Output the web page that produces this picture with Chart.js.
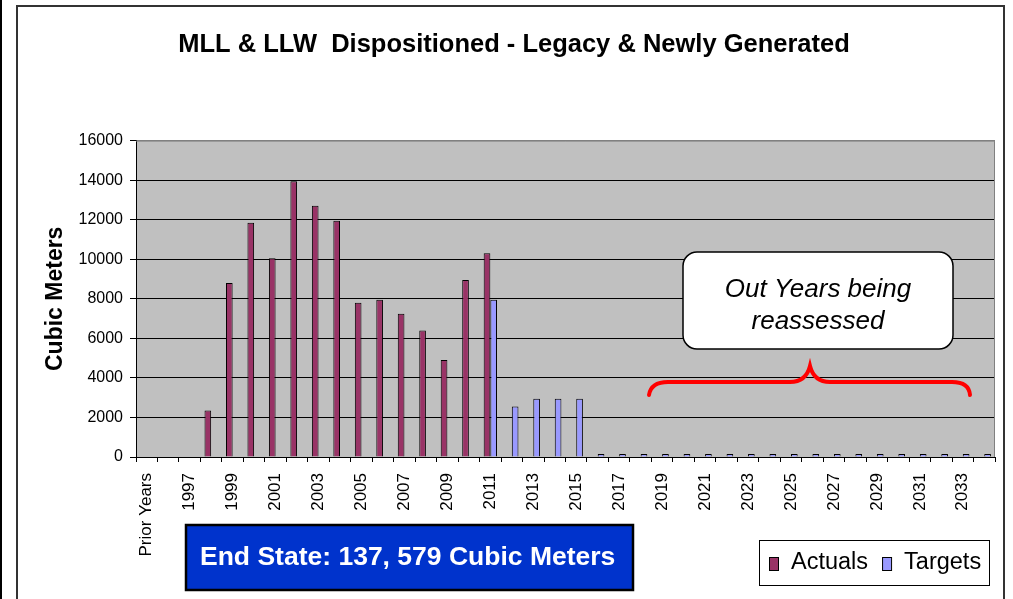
<!DOCTYPE html>
<html>
<head>
<meta charset="utf-8">
<script src="https://cdn.jsdelivr.net/npm/chart.js@4.4.1/dist/chart.umd.min.js"></script>
<style>
  html, body { margin: 0; padding: 0; background: #fff; }
  #wrap { width: 1013px; height: 599px; position: relative; }
</style>
</head>
<body>
<div id="wrap"><canvas id="wasteChart" width="1013" height="599"></canvas></div>
<script>
const categories = ['Prior Years', '1996', '1997', '1998', '1999', '2000', '2001', '2002', '2003', '2004',
    '2005', '2006', '2007', '2008', '2009', '2010', '2011', '2012', '2013', '2014', '2015', '2016',
    '2017', '2018', '2019', '2020', '2021', '2022', '2023', '2024', '2025', '2026', '2027', '2028',
    '2029', '2030', '2031', '2032', '2033', '2034'];

const actuals = [null, null, null, 2350, 8800, 11850, 10050, 13950, 12700, 11950,
    7800, 7950, 7250, 6400, 4900, 8950, 10300, null, null, null, null, null,
    null, null, null, null, null, null, null, null, null, null, null, null,
    null, null, null, null, null, null];

const targets = [null, null, null, null, null, null, null, null, null, null,
    null, null, null, null, null, null, 7950, 2550, 2950, 2950, 2950, 150,
    150, 150, 150, 150, 150, 150, 150, 150, 150, 150, 150, 150,
    150, 150, 150, 150, 150, 150];

const yTicks = [0, 2000, 4000, 6000, 8000, 10000, 12000, 14000, 16000];

const endStateText = 'End State: 137, 579 Cubic Meters';
const calloutLines = ['Out Years being', 'reassessed'];

const FONT = 'Arial, "Liberation Sans", sans-serif';

// gray plot area + outer frame
const backdrop = {
    id: 'backdrop',
    beforeDraw(chart) {
        const ctx = chart.ctx;
        const a = chart.chartArea;
        ctx.save();
        ctx.fillStyle = '#fff';
        ctx.fillRect(0, 0, chart.width, chart.height);
        ctx.strokeStyle = '#000';
        ctx.lineWidth = 2;
        ctx.beginPath();
        ctx.moveTo(1, 0); ctx.lineTo(1, chart.height);
        ctx.stroke();
        ctx.strokeStyle = '#333';
        ctx.beginPath();
        ctx.moveTo(17, chart.height); ctx.lineTo(17, 6); ctx.lineTo(1004, 6); ctx.lineTo(1004, chart.height);
        ctx.stroke();
        ctx.fillStyle = '#C0C0C0';
        ctx.fillRect(a.left, a.top, a.right - a.left, a.bottom - a.top);
        ctx.restore();
    },
    afterDatasetsDraw(chart) {
        const ctx = chart.ctx;
        const a = chart.chartArea;
        ctx.save();
        ctx.strokeStyle = '#808080';
        ctx.lineWidth = 1;
        ctx.beginPath();
        ctx.moveTo(a.left, a.top + 0.5);
        ctx.lineTo(a.right - 0.5, a.top + 0.5);
        ctx.lineTo(a.right - 0.5, a.bottom);
        ctx.stroke();
        ctx.restore();
    }
};

// text boxes, brace and legend
const annotations = {
    id: 'annotations',
    afterDraw(chart) {
        const ctx = chart.ctx;
        ctx.save();

        // callout box
        const bx = 683, by = 252, bw = 270, bh = 97, r = 14;
        ctx.beginPath();
        ctx.roundRect(bx, by, bw, bh, r);
        ctx.fillStyle = '#fff';
        ctx.fill();
        ctx.strokeStyle = '#000';
        ctx.lineWidth = 1.5;
        ctx.stroke();
        ctx.fillStyle = '#000';
        ctx.font = 'italic 26px ' + FONT;
        ctx.textAlign = 'center';
        ctx.textBaseline = 'middle';
        ctx.fillText(calloutLines[0], 818, 290);
        ctx.fillText(calloutLines[1], 818, 322);

        // red brace
        ctx.strokeStyle = '#FF0000';
        ctx.lineWidth = 4;
        ctx.lineCap = 'round';
        ctx.beginPath();
        ctx.moveTo(649, 395);
        ctx.quadraticCurveTo(651, 382, 668, 382);
        ctx.lineTo(790, 382);
        ctx.quadraticCurveTo(806, 382, 810, 366);
        ctx.quadraticCurveTo(814, 382, 830, 382);
        ctx.lineTo(952, 382);
        ctx.quadraticCurveTo(969, 382, 970, 395);
        ctx.stroke();

        // End state box
        ctx.fillStyle = '#0033CC';
        ctx.fillRect(186, 525, 447, 65);
        ctx.strokeStyle = '#000';
        ctx.lineWidth = 2.5;
        ctx.strokeRect(186, 525, 447, 65);
        ctx.fillStyle = '#fff';
        ctx.font = 'bold 26.5px ' + FONT;
        ctx.textAlign = 'left';
        ctx.fillText(endStateText, 200, 558);

        // legend
        const lx = 759, ly = 540, lw = 230, lh = 45;
        ctx.fillStyle = '#fff';
        ctx.fillRect(lx, ly, lw, lh);
        ctx.strokeStyle = '#000';
        ctx.lineWidth = 1;
        ctx.strokeRect(lx + 0.5, ly + 0.5, lw, lh);
        ctx.font = '23.5px ' + FONT;
        let x = 769;
        chart.data.datasets.forEach((ds) => {
            ctx.fillStyle = ds.backgroundColor;
            ctx.fillRect(x, 557, 9, 13);
            ctx.strokeRect(x + 0.5, 557.5, 9, 13);
            ctx.fillStyle = '#000';
            ctx.fillText(ds.label, x + 22, 563);
            x += 22 + ctx.measureText(ds.label).width + 14;
        });
        ctx.restore();
    }
};

const ctx = document.getElementById('wasteChart').getContext('2d');

new Chart(ctx, {
    type: 'bar',
    data: {
        labels: categories,
        datasets: [{
            label: 'Actuals',
            data: actuals,
            backgroundColor: '#993366',
            borderColor: '#000',
            borderWidth: 1,
            categoryPercentage: 0.62,
            barPercentage: 1.0
        }, {
            label: 'Targets',
            data: targets,
            backgroundColor: '#9999FF',
            borderColor: '#000',
            borderWidth: 1,
            categoryPercentage: 0.62,
            barPercentage: 1.0
        }]
    },
    options: {
        responsive: false,
        animation: false,
        layout: { padding: { left: 33, right: 18, top: 0, bottom: 0 } },
        plugins: {
            legend: { display: false },
            tooltip: { enabled: false },
            title: {
                display: true,
                text: 'MLL & LLW  Dispositioned - Legacy & Newly Generated',
                color: '#000',
                font: { family: FONT, size: 25.5, weight: 'bold', lineHeight: 1.2 },
                padding: { top: 30, bottom: 80 }
            }
        },
        scales: {
            x: {
                offset: true,
                grid: {
                    offset: true,
                    drawOnChartArea: false,
                    drawTicks: true,
                    tickLength: 5,
                    color: '#000'
                },
                border: { color: '#000' },
                ticks: {
                    autoSkip: false,
                    maxRotation: 90,
                    minRotation: 90,
                    padding: 11,
                    color: '#000',
                    font: { family: FONT, size: 17 },
                    callback: function(value, index) {
                        return index % 2 === 0 ? categories[index] : '';
                    }
                },
                afterFit: function(scale) {
                    scale.height = 142;
                    scale.paddingRight = 0;
                    scale.paddingLeft = 0;
                }
            },
            y: {
                min: 0,
                max: 16000,
                afterBuildTicks: function(scale) {
                    scale.ticks = yTicks.map((v) => ({ value: v }));
                },
                grid: {
                    color: (c) => c.tick && c.tick.value === 16000 ? '#808080' : '#000',
                    tickLength: 6,
                    tickColor: '#000'
                },
                border: { color: '#000' },
                ticks: {
                    padding: 7,
                    color: '#000',
                    font: { family: FONT, size: 16 },
                    callback: (v) => String(v)
                },
                title: {
                    display: true,
                    text: 'Cubic Meters',
                    color: '#000',
                    font: { family: FONT, size: 23, weight: 'bold' },
                    padding: { top: 9, bottom: 0 }
                },
                afterFit: function(scale) { scale.width = 103; }
            }
        }
    },
    plugins: [backdrop, annotations]
});
</script>
</body>
</html>
